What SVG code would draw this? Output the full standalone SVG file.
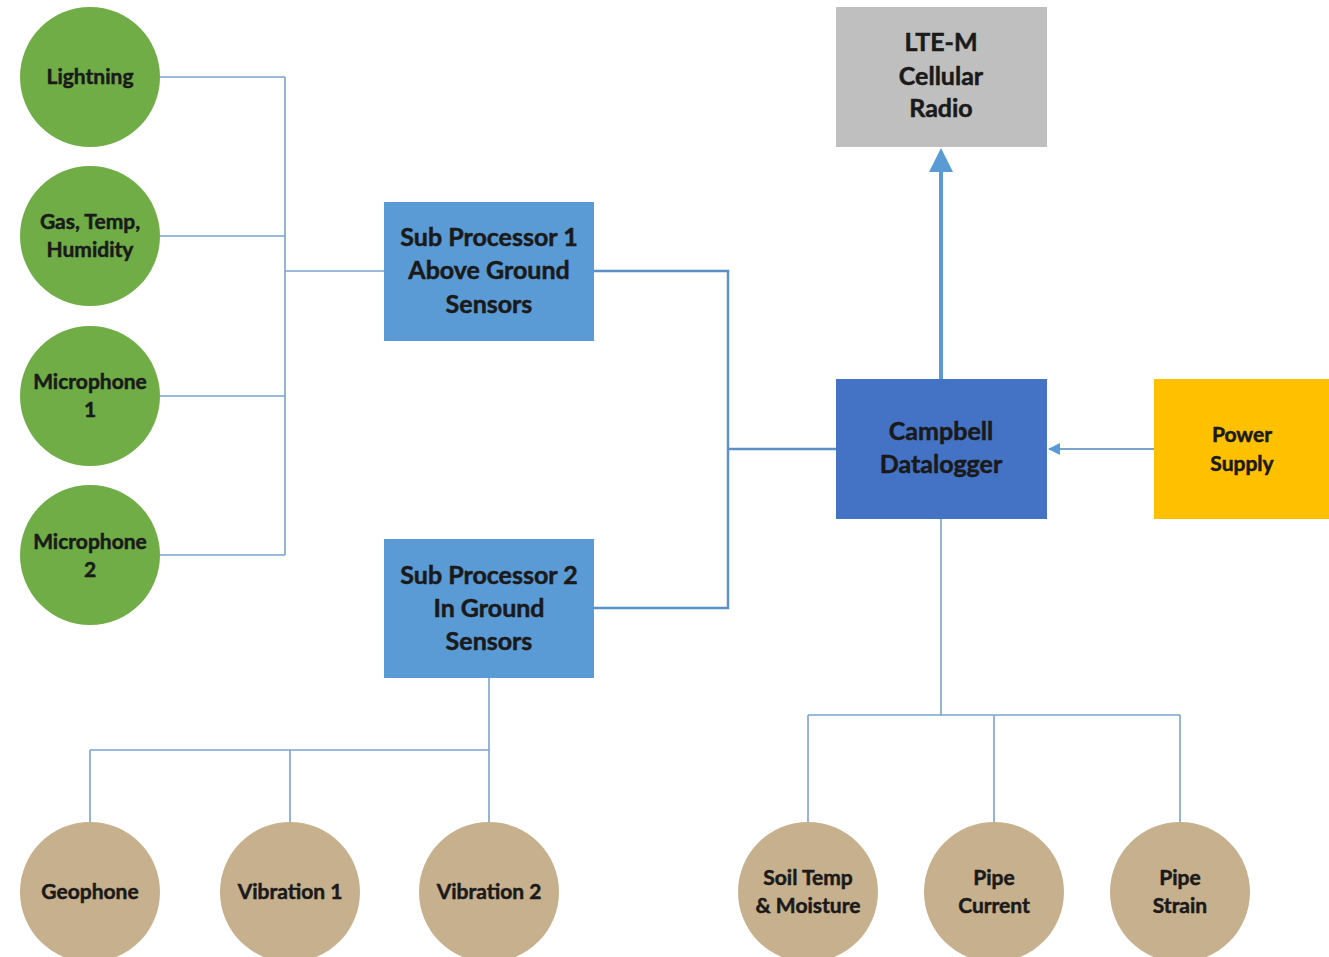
<svg xmlns="http://www.w3.org/2000/svg" width="1329" height="957" viewBox="0 0 1329 957">
<style>
.g{fill:#70AD47}
.t{fill:#C7B08D}
.lbl{font-family:Lato,"Open Sans","Liberation Sans",sans-serif;font-weight:bold;fill:#1a1a1a;stroke:#1a1a1a;stroke-width:0.5;text-anchor:middle}
.s{font-size:21px}
.b{font-size:25px}
.c{fill:none;stroke:#7BA3CF;stroke-width:1.6}
.c2{fill:none;stroke:#5B8FC7;stroke-width:2.4}
</style>
<defs>
<marker id="ah" markerWidth="6" markerHeight="6" refX="5" refY="3" orient="auto" markerUnits="strokeWidth">
<path d="M0,0 L6,3 L0,6 z" fill="#5B9BD5"/>
</marker>
<marker id="ah2" markerWidth="12" markerHeight="12" refX="11" refY="6" orient="auto" markerUnits="userSpaceOnUse">
<path d="M0,0 L12,6 L0,12 z" fill="#5B9BD5"/>
</marker>
</defs>
<rect width="1329" height="957" fill="#fff"/>
<g id="connectors">
<path class="c" d="M160,77 H285 M160,236 H285 M160,396 H285 M160,555 H285 M285,77 V555 M285,271 H384"/>
<path class="c2" d="M594,271 H728 V608 H594 M728,449 H836"/>
<path class="c" d="M489,678 V822 M90,750 H489 M90,750 V822 M290,750 V822"/>
<path class="c" d="M941,519 V715 M808,715 H1180 M808,715 V822 M994,715 V822 M1180,715 V822"/>
<line x1="941" y1="379" x2="941" y2="152" stroke="#5B9BD5" stroke-width="4" marker-end="url(#ah)"/>
<line x1="1154" y1="449" x2="1049" y2="449" stroke="#7BA3CF" stroke-width="2" marker-end="url(#ah2)"/>
</g>
<g id="lightning"><ellipse class="g" cx="90" cy="77" rx="70" ry="70"/><text class="lbl s" x="90" y="84">Lightning</text></g>
<g id="gas"><ellipse class="g" cx="90" cy="236" rx="70" ry="70"/><text class="lbl s" x="90" y="229">Gas, Temp,</text><text class="lbl s" x="90" y="257">Humidity</text></g>
<g id="mic1"><ellipse class="g" cx="90" cy="396" rx="70" ry="70"/><text class="lbl s" x="90" y="389">Microphone</text><text class="lbl s" x="90" y="417">1</text></g>
<g id="mic2"><ellipse class="g" cx="90" cy="555" rx="70" ry="70"/><text class="lbl s" x="90" y="549">Microphone</text><text class="lbl s" x="90" y="577">2</text></g>
<g id="sp1"><rect x="384" y="202" width="210" height="139" fill="#5B9BD5"/><text class="lbl b" x="489" y="246">Sub Processor 1</text><text class="lbl b" x="489" y="279">Above Ground</text><text class="lbl b" x="489" y="313">Sensors</text></g>
<g id="sp2"><rect x="384" y="539" width="210" height="139" fill="#5B9BD5"/><text class="lbl b" x="489" y="584">Sub Processor 2</text><text class="lbl b" x="489" y="617">In Ground</text><text class="lbl b" x="489" y="650">Sensors</text></g>
<g id="lte"><rect x="836" y="7" width="211" height="140" fill="#BFBFBF"/><text class="lbl b" x="941" y="51">LTE-M</text><text class="lbl b" x="941" y="85">Cellular</text><text class="lbl b" x="941" y="117">Radio</text></g>
<g id="campbell"><rect x="836" y="379" width="211" height="140" fill="#4472C4"/><text class="lbl b" x="941" y="440">Campbell</text><text class="lbl b" x="941" y="473">Datalogger</text></g>
<g id="power"><rect x="1154" y="379" width="175" height="140" fill="#FFC000"/><text class="lbl s" x="1242" y="442">Power</text><text class="lbl s" x="1242" y="471">Supply</text></g>
<g id="geophone"><ellipse class="t" cx="90" cy="892" rx="70" ry="70"/><text class="lbl s" x="90" y="899">Geophone</text></g>
<g id="vib1"><ellipse class="t" cx="290" cy="892" rx="70" ry="70"/><text class="lbl s" x="290" y="899">Vibration 1</text></g>
<g id="vib2"><ellipse class="t" cx="489" cy="892" rx="70" ry="70"/><text class="lbl s" x="489" y="899">Vibration 2</text></g>
<g id="soil"><ellipse class="t" cx="808" cy="892" rx="70" ry="70"/><text class="lbl s" x="808" y="885">Soil Temp</text><text class="lbl s" x="808" y="913">&amp; Moisture</text></g>
<g id="pipecurrent"><ellipse class="t" cx="994" cy="892" rx="70" ry="70"/><text class="lbl s" x="994" y="885">Pipe</text><text class="lbl s" x="994" y="913">Current</text></g>
<g id="pipestrain"><ellipse class="t" cx="1180" cy="892" rx="70" ry="70"/><text class="lbl s" x="1180" y="885">Pipe</text><text class="lbl s" x="1180" y="913">Strain</text></g>
</svg>
